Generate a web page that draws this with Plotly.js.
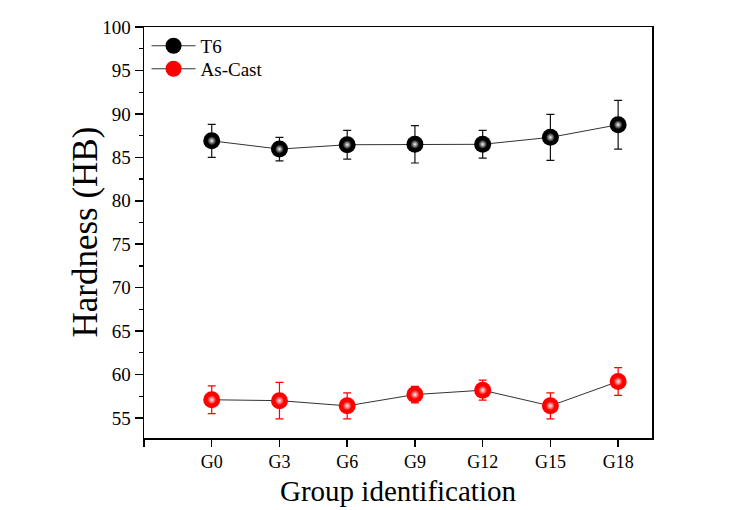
<!DOCTYPE html>
<html>
<head>
<meta charset="utf-8">
<script src="https://cdn.plot.ly/plotly-3.0.1.min.js"></script>
<style>html,body{margin:0;padding:0;background:#fff;}#chart{width:744px;height:510px;}</style>
</head>
<body>
<div id="chart"></div>
<script>
const categories = ['G0','G3','G6','G9','G12','G15','G18'];
const t6Values = [86.9, 85.95, 86.45, 86.5, 86.5, 87.3, 88.75];
const t6Errors = [1.9, 1.35, 1.65, 2.15, 1.6, 2.65, 2.8];
const castValues = [57.1, 57.0, 56.4, 57.7, 58.2, 56.4, 59.2];
const castErrors = [1.6, 2.1, 1.5, 0.95, 1.15, 1.5, 1.6];
const yTickVals = [55, 60, 65, 70, 75, 80, 85, 90, 95, 100];

const xIdx = categories.map((c, i) => i);
const font = 'Liberation Serif, Times New Roman, serif';

function series(name, y, err, color, hi, legendId) {
  return [{
    x: xIdx, y: y, name: name, type: 'scatter', mode: 'lines+markers', legend: legendId,
    line: {color: '#333333', width: 1},
    marker: {size: 17, color: color, line: {width: 0}},
    error_y: {type: 'data', array: err, visible: true, color: color === 'black' ? '#111' : '#ff0000', thickness: 1.2, width: 4}
  }, {
    x: xIdx, y: y, showlegend: false, hoverinfo: 'skip', type: 'scatter', mode: 'markers',
    marker: {size: 9, color: color, line: {width: 0},
             gradient: {type: 'radial', color: hi}}
  }];
}

const data = [...series('T6', t6Values, t6Errors, 'black', '#f4f4f4', 'legend'),
              ...series('As-Cast', castValues, castErrors, '#ff0000', '#fff4f4', 'legend2')];

const legendBase = {xanchor: 'left', yanchor: 'middle', bgcolor: 'rgba(0,0,0,0)',
  font: {family: font, size: 19, color: '#000'}, itemwidth: 44};

const layout = {
  width: 744, height: 510,
  margin: {l: 144, r: 92, t: 27, b: 72},
  paper_bgcolor: '#ffffff', plot_bgcolor: '#ffffff',
  font: {family: font, color: '#000'},
  showlegend: true,
  legend: Object.assign({x: 0.005, y: 0.954}, legendBase),
  legend2: Object.assign({x: 0.005, y: 0.898}, legendBase),
  xaxis: {
    range: [-1, 6.5],
    tickvals: [-1, ...xIdx], ticktext: ['', ...categories],
    ticks: 'outside', ticklen: 7, tickwidth: 1.5, tickcolor: '#000',
    showline: true, linecolor: '#000', linewidth: 1.5, mirror: true,
    showgrid: false, zeroline: false,
    tickfont: {family: font, size: 18, color: '#000'}
  },
  yaxis: {
    range: [52.7, 100],
    tickvals: yTickVals,
    ticks: 'outside', ticklen: 8, tickwidth: 1.5, tickcolor: '#000',
    minor: {dtick: 2.5, tick0: 52.5, ticks: 'outside', ticklen: 4, tickwidth: 1.2, tickcolor: '#000'},
    showline: true, linecolor: '#000', linewidth: 1.5, mirror: true,
    showgrid: false, zeroline: false,
    tickfont: {family: font, size: 19, color: '#000'}
  },
  annotations: [{
    text: 'Hardness (HB)', xref: 'paper', yref: 'paper', x: -0.116, y: 0.5,
    xanchor: 'center', yanchor: 'middle', textangle: -90, showarrow: false,
    font: {family: font, size: 35, color: '#000'}
  }, {
    text: 'Group identification', xref: 'paper', yref: 'paper', x: 0.5, y: 0, yshift: -53,
    xanchor: 'center', yanchor: 'middle', showarrow: false, borderpad: 0,
    font: {family: font, size: 29, color: '#000'}
  }]
};

Plotly.newPlot('chart', data, layout, {displayModeBar: false, staticPlot: true});
</script>
</body>
</html>
